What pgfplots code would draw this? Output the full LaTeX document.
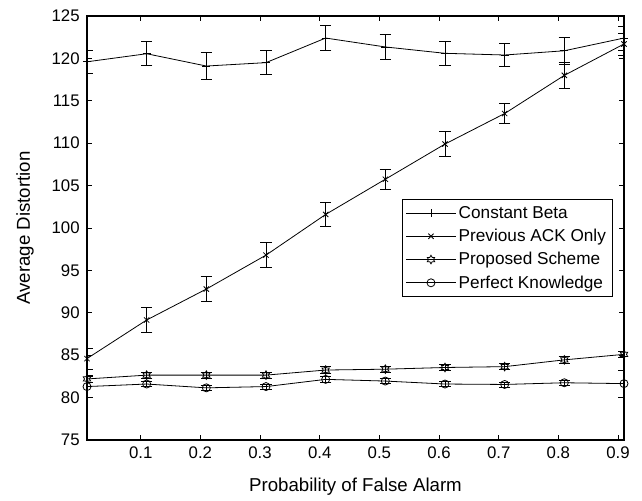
\documentclass[border=0pt]{standalone}
\usepackage{fontspec}
\setmainfont{Liberation Sans}
\usepackage{pgfplots}
\pgfplotsset{compat=1.18}
\pgfdeclareplotmark{hexagram}{%
  \pgfpathmoveto{\pgfpointpolar{90}{\pgfplotmarksize}}%
  \pgfpathlineto{\pgfpointpolar{120}{0.577\pgfplotmarksize}}%
  \pgfpathlineto{\pgfpointpolar{150}{\pgfplotmarksize}}%
  \pgfpathlineto{\pgfpointpolar{180}{0.577\pgfplotmarksize}}%
  \pgfpathlineto{\pgfpointpolar{210}{\pgfplotmarksize}}%
  \pgfpathlineto{\pgfpointpolar{240}{0.577\pgfplotmarksize}}%
  \pgfpathlineto{\pgfpointpolar{270}{\pgfplotmarksize}}%
  \pgfpathlineto{\pgfpointpolar{300}{0.577\pgfplotmarksize}}%
  \pgfpathlineto{\pgfpointpolar{330}{\pgfplotmarksize}}%
  \pgfpathlineto{\pgfpointpolar{0}{0.577\pgfplotmarksize}}%
  \pgfpathlineto{\pgfpointpolar{30}{\pgfplotmarksize}}%
  \pgfpathlineto{\pgfpointpolar{60}{0.577\pgfplotmarksize}}%
  \pgfpathclose
  \pgfusepathqstroke}
\begin{document}
\begin{tikzpicture}
\begin{axis}[
  scale only axis,
  width=402.75pt, height=318pt,
  xmin=0.01, xmax=0.91, ymin=75, ymax=125,
  xtick={0.1,0.2,0.3,0.4,0.5,0.6,0.7,0.8,0.9},
  ytick={75,80,85,90,95,100,105,110,115,120,125},
  xticklabel style={/pgf/number format/fixed, /pgf/number format/precision=1, yshift=-1.5pt},
  yticklabel style={xshift=-2pt},
  /pgf/number format/assume math mode=true,
  tick label style={font=\fontsize{12.6}{14}\selectfont},
  tick align=inside, major tick length=4pt,
  axis line style={line width=0.8pt},
  every tick/.style={black, line width=0.6pt},
  xlabel={Probability of False Alarm},
  ylabel={Average Distortion},
  every axis x label/.style={at={(axis description cs:0.5,-0.1226)}, anchor=base, font=\fontsize{14}{16}\selectfont},
  every axis y label/.style={at={(axis description cs:-0.1155,0.5)}, anchor=center, rotate=90, font=\fontsize{14}{16}\selectfont},
  legend style={at={(0.9795,0.568)}, anchor=north east, draw=black, line width=0.6pt, fill=white,
    font=\fontsize{12.9}{15}\selectfont, row sep=2.6pt, inner xsep=3pt, inner ysep=3pt},
  legend cell align=left,
  legend image code/.code={\draw[mark repeat=2,mark phase=2] plot coordinates {(0pt,0pt) (18.5pt,0pt) (37pt,0pt)};},
  every axis plot/.append style={black, line width=0.6pt},
  error bars/error bar style={line width=0.6pt},
  error bars/error mark options={rotate=90, mark size=4.2pt, line width=0.6pt},
]
\addplot+[black, mark=+, mark size=3pt, error bars/.cd, y dir=both, y explicit] coordinates {
 (0.01,119.6) +- (0,1.4)
 (0.11,120.55) +- (0,1.4)
 (0.21,119.1) +- (0,1.6)
 (0.31,119.5) +- (0,1.4)
 (0.41,122.4) +- (0,1.45)
 (0.51,121.35) +- (0,1.45)
 (0.61,120.6) +- (0,1.45)
 (0.71,120.4) +- (0,1.4)
 (0.81,120.9) +- (0,1.55)
 (0.91,122.4) +- (0,1.4)
};
\addlegendentry{Constant Beta}
\addplot+[black, mark=x, mark size=2.8pt, error bars/.cd, y dir=both, y explicit] coordinates {
 (0.01,84.6) +- (0,1.25)
 (0.11,89.15) +- (0,1.45)
 (0.21,92.8) +- (0,1.45)
 (0.31,96.8) +- (0,1.5)
 (0.41,101.6) +- (0,1.45)
 (0.51,105.75) +- (0,1.15)
 (0.61,109.9) +- (0,1.45)
 (0.71,113.5) +- (0,1.2)
 (0.81,118.0) +- (0,1.5)
 (0.91,121.7) +- (0,1.3)
};
\addlegendentry{Previous ACK Only}
\addplot+[black, mark=hexagram, mark size=3.2pt, error bars/.cd, y dir=both, y explicit] coordinates {
 (0.01,82.2) +- (0,0.35)
 (0.11,82.65) +- (0,0.35)
 (0.21,82.65) +- (0,0.35)
 (0.31,82.65) +- (0,0.35)
 (0.41,83.25) +- (0,0.4)
 (0.51,83.35) +- (0,0.35)
 (0.61,83.55) +- (0,0.35)
 (0.71,83.65) +- (0,0.35)
 (0.81,84.45) +- (0,0.45)
 (0.91,85.1) +- (0,0.4)
};
\addlegendentry{Proposed Scheme}
\addplot+[black, mark=o, mark size=3pt, error bars/.cd, y dir=both, y explicit] coordinates {
 (0.01,81.3) +- (0,1.3)
 (0.11,81.6) +- (0,0.3)
 (0.21,81.15) +- (0,0.3)
 (0.31,81.3) +- (0,0.3)
 (0.41,82.15) +- (0,0.3)
 (0.51,81.95) +- (0,0.3)
 (0.61,81.6) +- (0,0.3)
 (0.71,81.55) +- (0,0.3)
 (0.81,81.75) +- (0,0.3)
 (0.91,81.65) +- (0,1.6)
};
\addlegendentry{Perfect Knowledge}
\end{axis}
\path (-65.25pt,-45pt) rectangle (416.25pt,330pt);
\end{tikzpicture}
\end{document}
